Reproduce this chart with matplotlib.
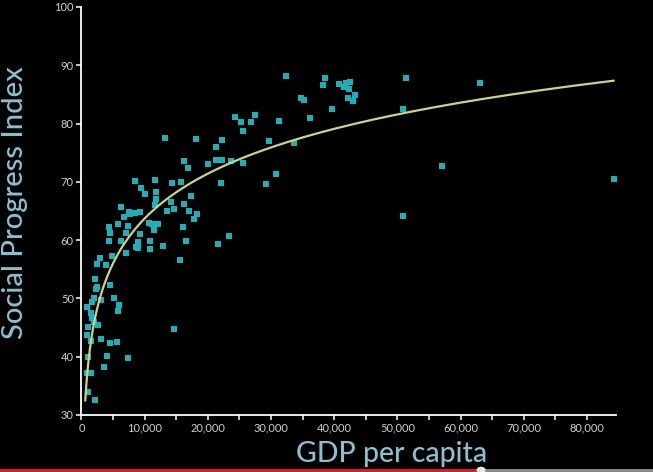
import matplotlib.pyplot as plt
import numpy as np
from matplotlib.patches import Rectangle, Circle
from matplotlib.ticker import FuncFormatter, MultipleLocator

# values
gdp_per_capita = [
    32400, 38600, 38200, 40700, 41600, 41900, 42500, 42300, 43200, 42100,
    42900, 34800, 35200, 39600, 36100, 27500, 26800, 31300, 29600, 33700,
    30700, 29200, 51300, 50900, 63000, 57100, 50900, 84200, 24300, 25200,
    25600, 13200, 18100, 21300, 22200, 16200, 16800, 20000, 21300, 22200,
    23600, 25500, 22000, 14400, 15800, 11700, 11800, 11800, 11700, 8500,
    9400, 10000, 6200, 7500, 7700, 8400, 9300, 6800, 14200, 14600,
    13600, 16200, 17300, 17000, 18200, 17800, 5700, 7300, 4400, 4500,
    7100, 4300, 6200, 9300, 10700, 11200, 12100, 11500, 16000, 8900,
    8600, 9000, 10900, 10900, 12900, 16600, 21600, 23300, 7000, 15600,
    3000, 2500, 3800, 4800, 2200, 2500, 2300, 4500, 2000, 1600,
    3100, 900, 5200, 6000, 5700, 1500, 1700, 1900, 1000, 2600,
    900, 1500, 3100, 4500, 5600, 14600, 1000, 4100, 7400, 3500,
    800, 1500, 1000, 2100,
]
social_progress = [
    88.1, 87.8, 86.7, 86.8, 86.3, 86.9, 87.1, 85.9, 84.9, 84.4,
    83.8, 84.3, 84.0, 82.5, 80.9, 81.5, 80.2, 80.5, 77.0, 76.7,
    71.3, 69.7, 87.9, 82.5, 86.9, 72.8, 64.2, 70.5, 81.1, 80.3,
    78.8, 77.6, 77.3, 76.0, 77.2, 73.5, 72.4, 73.1, 73.7, 73.7,
    73.6, 73.2, 69.8, 69.8, 70.0, 70.4, 68.2, 67.1, 66.1, 70.2,
    69.0, 67.9, 65.7, 64.8, 64.5, 64.7, 64.8, 63.9, 66.6, 65.4,
    65.0, 66.2, 67.6, 65.0, 64.4, 63.6, 62.7, 62.5, 62.2, 61.2,
    61.3, 59.9, 59.9, 61.0, 62.9, 62.8, 62.8, 61.7, 62.3, 59.6,
    58.8, 58.7, 59.8, 58.5, 59.0, 59.8, 59.3, 60.7, 57.8, 56.6,
    56.9, 55.9, 55.8, 57.2, 53.3, 51.9, 51.6, 52.3, 50.0, 49.3,
    49.7, 48.6, 50.0, 48.8, 47.8, 47.5, 46.7, 46.0, 45.1, 45.4,
    43.8, 42.7, 43.0, 42.3, 42.6, 44.7, 40.0, 40.1, 39.8, 38.3,
    37.2, 37.2, 34.0, 32.5,
]
x_ticks = [0, 10000, 20000, 30000, 40000, 50000, 60000, 70000, 80000]
y_ticks = [30, 40, 50, 60, 70, 80, 90, 100]

BG = "black"
POINT_COLOR = "#19b2bc"
TREND_COLOR = "#c9d67e"
LABEL_COLOR = "#86c2d2"
TICK_COLOR = "#d0d0d0"


def main():
    x = np.array(gdp_per_capita, dtype=float)
    y = np.array(social_progress, dtype=float)

    # logarithmic trend line fitted to the scatter
    slope, intercept = np.polyfit(np.log(x), y, 1)
    trend_x = np.geomspace(600, x.max(), 300)
    trend_y = intercept + slope * np.log(trend_x)

    fig = plt.figure(figsize=(6.53, 4.72), dpi=100)
    fig.patch.set_facecolor(BG)
    ax = fig.add_axes([0.1248, 0.1208, 0.8178, 0.8644])
    ax.set_facecolor(BG)

    ax.scatter(x, y, s=15, marker="s", color=POINT_COLOR, linewidths=0, zorder=3)
    ax.plot(trend_x, trend_y, color=TREND_COLOR, linewidth=1.6, zorder=4)

    ax.set_xlim(0, 84500)
    ax.set_ylim(30, 100)
    ax.set_xticks(x_ticks)
    ax.set_yticks(y_ticks)
    ax.xaxis.set_minor_locator(MultipleLocator(5000))
    ax.xaxis.set_major_formatter(FuncFormatter(lambda v, _: f"{int(v):,}"))

    for spine in ["top", "right"]:
        ax.spines[spine].set_visible(False)
    for spine in ["left", "bottom"]:
        ax.spines[spine].set_color("white")
        ax.spines[spine].set_linewidth(1.3)

    ax.tick_params(axis="both", which="both", colors="white", width=1.1,
                   length=3.5, labelcolor=TICK_COLOR, labelsize=8, pad=2)
    for lbl in ax.get_xticklabels() + ax.get_yticklabels():
        lbl.set_family("Lato")

    ax.set_xlabel("GDP per capita", fontsize=20.5, color=LABEL_COLOR,
                  family="Lato", fontweight="medium")
    ax.xaxis.set_label_coords(0.58, -0.064)
    ax.set_ylabel("Social Progress Index", fontsize=21, color=LABEL_COLOR,
                  family="Lato", fontweight="medium")
    ax.yaxis.set_label_coords(-0.100, 0.52)

    # video player progress bar along the bottom edge
    fig.add_artist(Rectangle((0, 0), 477 / 653, 3.5 / 472, transform=fig.transFigure,
                             color="#d81f1f", linewidth=0))
    fig.add_artist(Rectangle((477 / 653, 0), 1, 3.5 / 472, transform=fig.transFigure,
                             color="#8a8a8a", linewidth=0))
    fig.add_artist(Circle((481 / 653, 2 / 472), 0.007, transform=fig.transFigure,
                          color="#e8e8e8", linewidth=0))

    fig.savefig("out.png", dpi=100, facecolor=BG)
    plt.close(fig)


if __name__ == "__main__":
    main()
